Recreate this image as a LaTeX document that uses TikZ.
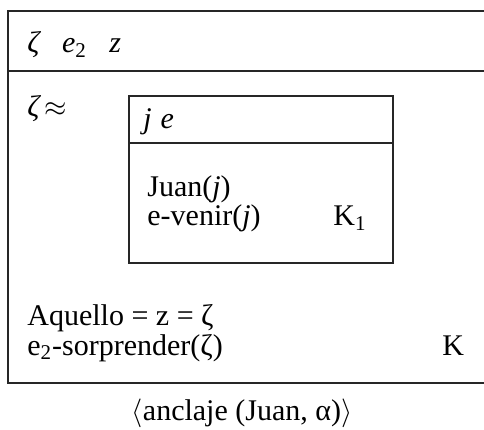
\documentclass[tikz,border=0pt]{standalone}
\usepackage{fontspec}
\setmainfont{Liberation Serif}
\begin{document}
\begin{tikzpicture}[x=0.5bp,y=-0.5bp,
  boxline/.style={draw=black!85,line width=1.1bp},
  txt/.style={anchor=base west,inner sep=0pt,font=\fontsize{15bp}{15bp}\selectfont}]
\useasboundingbox (0,0) rectangle (484,430);
% outer box (right edge lies outside the picture)
\draw[boxline] (492,11) -- (8,11) -- (8,383) -- (492,383);
\draw[boxline] (8,71) -- (492,71);
% inner box
\draw[boxline] (129,96) rectangle (393,263);
\draw[boxline] (129,143) -- (393,143);
% texts
\node[txt] (univ) at (27,53) {\itshape ζ\hspace{0.75em}e\textsubscript{\upshape 2}\hspace{0.75em}z};
\node[txt] (zeta) at (27,117) {\itshape ζ\,\upshape$\approx$};
\node[txt] (je) at (143,129) {\itshape j\hspace{0.3em}e};
\node[txt] (juan) at (147,197) {Juan(\textit{j})};
\node[txt] (venir) at (147,226) {e-venir(\textit{j})};
\node[txt] (k1) at (333,226) {K\textsubscript{1}};
\node[txt] (aq) at (27,325) {Aquello = z = ζ};
\node[txt] (sorp) at (27,355) {e\textsubscript{2}-sorprender(ζ)};
\node[txt] (k) at (442,355) {K};
\node[inner sep=0pt,anchor=base,font=\fontsize{15bp}{15bp}\selectfont] (cap) at (242,420) {$\langle$anclaje (Juan, α)$\rangle$};
\end{tikzpicture}
\end{document}
